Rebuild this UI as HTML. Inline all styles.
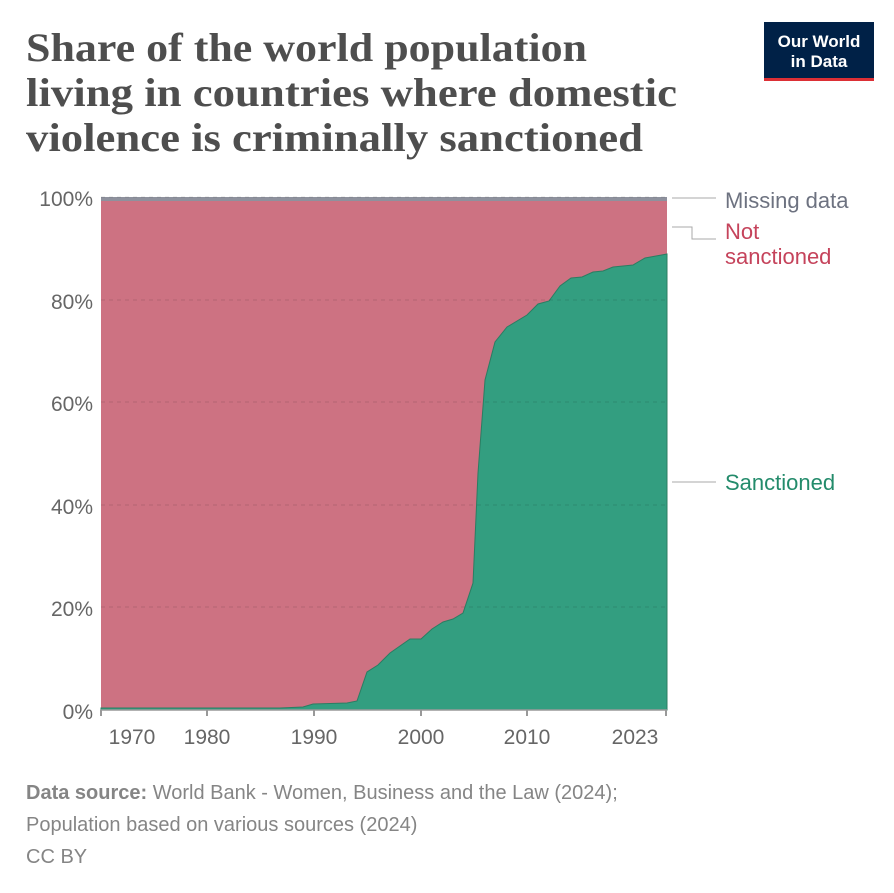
<!DOCTYPE html>
<html><head><meta charset="utf-8"><style>
body{margin:0;width:894px;height:888px;background:#fff;font-family:"Liberation Sans",sans-serif;overflow:hidden}
</style></head><body>
<svg width="894" height="888" viewBox="0 0 894 888" xmlns="http://www.w3.org/2000/svg">
<g font-family="Liberation Serif,serif" font-weight="bold" font-size="40" fill="#4e4e4e">
<text x="26" y="61" textLength="561" lengthAdjust="spacingAndGlyphs">Share of the world population</text>
<text x="26" y="106" textLength="651" lengthAdjust="spacingAndGlyphs">living in countries where domestic</text>
<text x="26" y="151" textLength="617" lengthAdjust="spacingAndGlyphs">violence is criminally sanctioned</text></g>
<rect x="764" y="22" width="110" height="59" fill="#002147"/>
<rect x="764" y="78" width="110" height="3" fill="#dc2f35"/>
<text x="819" y="47" text-anchor="middle" font-size="17" font-weight="bold" fill="#fff">Our World</text>
<text x="819" y="67" text-anchor="middle" font-size="17" font-weight="bold" fill="#fff">in Data</text>
<rect x="101" y="197" width="566" height="513" fill="#cd7282"/>
<rect x="101" y="197" width="566" height="4" fill="#8e919d"/>
<polygon fill="#339e80" stroke="#2b7d62" stroke-width="1" points="101,710 101,708 280,708 303,707 313,704 347,703 357,701 367,672 378,665 390,653 410,639 421,639 432,629 443,622 453,619 463,613 473,583 478,473 485,380 495,342 507,327 527,315 538,304 549,301 560,286 571,278 582,277 593,272 603,271 613,267 633,265 645,258 667,254 667,710"/>
<g stroke="#000" stroke-opacity="0.12" stroke-dasharray="4,4">
<line x1="101" x2="667" y1="197" y2="197"/><line x1="101" x2="667" y1="300" y2="300"/><line x1="101" x2="667" y1="402" y2="402"/><line x1="101" x2="667" y1="505" y2="505"/><line x1="101" x2="667" y1="607" y2="607"/></g>
<line x1="101" x2="667" y1="710" y2="710" stroke="#999" stroke-width="1.5"/>
<g stroke="#999" stroke-width="2"><line x1="101" x2="101" y1="710" y2="716"/><line x1="207" x2="207" y1="710" y2="716"/><line x1="314" x2="314" y1="710" y2="716"/><line x1="421" x2="421" y1="710" y2="716"/><line x1="527" x2="527" y1="710" y2="716"/><line x1="666" x2="666" y1="710" y2="716"/></g>
<g font-size="21" fill="#666" text-anchor="end"><text x="93" y="206">100%</text><text x="93" y="309">80%</text><text x="93" y="411">60%</text><text x="93" y="514">40%</text><text x="93" y="616">20%</text><text x="93" y="719">0%</text></g>
<g font-size="21" fill="#666" text-anchor="middle"><text x="132" y="744">1970</text><text x="207" y="744">1980</text><text x="314" y="744">1990</text><text x="421" y="744">2000</text><text x="527" y="744">2010</text><text x="635" y="744">2023</text></g>
<g stroke="#aaa" fill="none"><path d="M672,198 H716"/><path d="M672,227 H692 V239 H716"/><path d="M672,482 H716"/></g>
<g font-size="22"><text x="725" y="208" fill="#6d7280">Missing data</text><text x="725" y="239" fill="#c5435b">Not</text><text x="725" y="264" fill="#c5435b">sanctioned</text><text x="725" y="490" fill="#238b6b">Sanctioned</text></g>
<g font-size="20" fill="#858585"><text x="26" y="799"><tspan font-weight="bold">Data source:</tspan> World Bank - Women, Business and the Law (2024);</text><text x="26" y="831">Population based on various sources (2024)</text><text x="26" y="863">CC BY</text></g>
</svg>
</body></html>
